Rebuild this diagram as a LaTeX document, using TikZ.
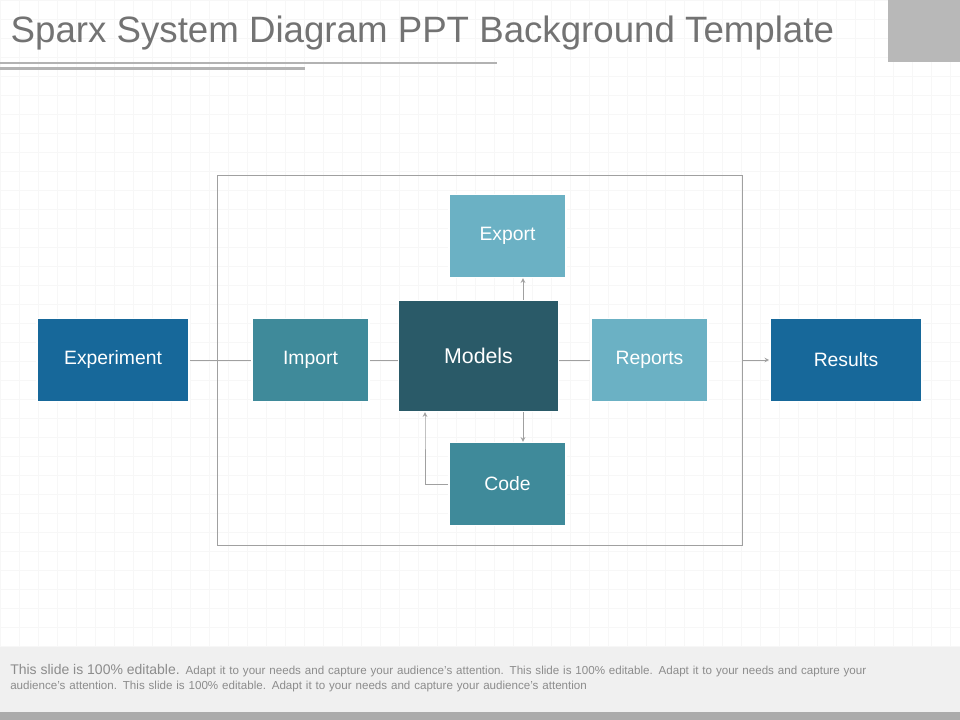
\documentclass[tikz,border=0pt]{standalone}
\usepackage{fontspec}
\setmainfont{Liberation Sans}
\usetikzlibrary{positioning}
\definecolor{darkblue}{HTML}{17689A}
\definecolor{tealmid}{HTML}{3F8A9A}
\definecolor{tealdark}{HTML}{2A5A68}
\definecolor{teallight}{HTML}{6BB1C4}
\definecolor{linegray}{HTML}{A0A0A0}
\begin{document}
\begin{tikzpicture}[x=0.75pt,y=-0.75pt,>=stealth,
  box/.style={draw=white,line width=1.2pt,text=white,font=\fontsize{14.5}{17}\selectfont,inner sep=0pt},
  wide box/.style={box,minimum width=114pt,minimum height=62pt},
  small box/.style={box,minimum width=88pt,minimum height=62pt},
  link/.style={draw=linegray,line width=0.6pt}]
  \useasboundingbox (0,0) rectangle (960,720);
  \fill[white] (0,0) rectangle (960,720);
  \draw[gray!6,line width=0.4pt,step=14.25pt] (0,0) grid (960,647);
  % title area
  \fill[black!28] (888,0) rectangle (960,62);
  \node[anchor=west,text=black!55,font=\fontsize{27.5}{32}\selectfont] (title) at (6,33) {Sparx System Diagram PPT Background Template};
  \draw[black!30,line width=0.8pt] (0,63) -- (497,63);
  \draw[black!30,line width=2.2pt] (0,68.5) -- (305,68.5);
  % frame
  \draw[linegray,line width=0.6pt] (217,175) rectangle (742,545);
  % nodes
  \node[wide box,fill=darkblue] (experiment) at (113,360) {Experiment};
  \node[small box,fill=tealmid] (import) at (310.5,360) {Import};
  \node[box,fill=tealdark,minimum width=120pt,minimum height=83pt,font=\fontsize{16}{19}\selectfont,yshift=3pt] (models) at (478.5,360) {Models};
  \node[small box,fill=teallight] (reports) at (649.5,360) {Reports};
  \node[wide box,fill=darkblue] (results) at (846,360) {Results};
  \node[small box,fill=teallight] (export) at (507.5,236) {Export};
  \node[small box,fill=tealmid] (code) at (507.5,484) {Code};
  % connectors
  \draw[link] (experiment) -- (import);
  \draw[link] (import) -- (models.west |- import);
  \draw[link] (models.east |- reports) -- (reports);
  \draw[link,->] (742,360) -- (results);
  \draw[link,->] (models.north -| 523,0) -- (export.south -| 523,0);
  \draw[link,->] (models.south -| 523,0) -- (code.north -| 523,0);
  \draw[link,->] (code.west) -| (425,415) -- (models.south -| 425,0);
  % footer
  \fill[black!6] (0,647) rectangle (960,712);
  \fill[black!33] (0,712) rectangle (960,720);
  \node[anchor=north west,text width=700pt,align=left,text=black!45,inner sep=0pt,font=\fontsize{8.7}{11.5}\selectfont] (footer) at (10,664)
    {{\fontsize{10.5}{10.5}\selectfont This slide is 100\% editable.} Adapt it to your needs and capture your audience’s attention. This slide is 100\% editable. Adapt it to your needs and capture your\\ audience’s attention. This slide is 100\% editable. Adapt it to your needs and capture your audience’s attention};
\end{tikzpicture}
\end{document}
